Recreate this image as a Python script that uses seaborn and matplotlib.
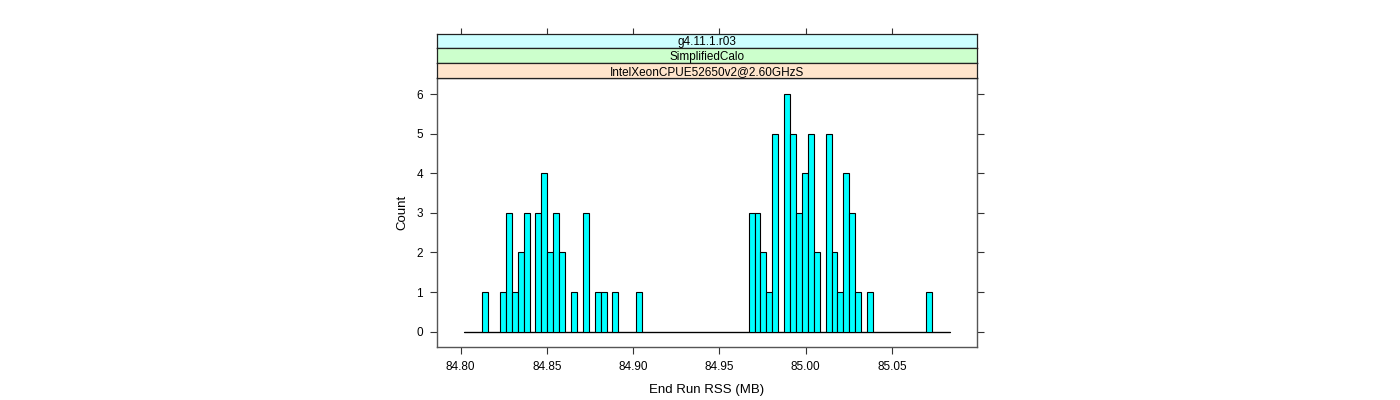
import numpy as np
import pandas as pd
import matplotlib
matplotlib.use("Agg")
import matplotlib.pyplot as plt
import seaborn as sns

# ---- data ----
rss_mb = [84.8142, 84.8245, 84.8279, 84.8314, 84.8348, 84.8382, 84.8451, 84.8485,
          84.8520, 84.8554, 84.8588, 84.8657, 84.8726, 84.8794, 84.8829, 84.8897,
          84.9034,
          84.9687, 84.9721, 84.9755, 84.9789, 84.9824, 84.9892, 84.9927, 84.9961,
          84.9995, 85.0030, 85.0064, 85.0133, 85.0167, 85.0201, 85.0236, 85.0270,
          85.0304, 85.0373, 85.0716]
counts = [1, 1, 3, 1, 2, 3, 3, 4, 2, 3, 2, 1, 3, 1, 1, 1, 1,
          3, 3, 2, 1, 5, 6, 5, 3, 4, 5, 2, 5, 2, 1, 4, 3, 1, 1, 1]
bin_start = 84.8022
bin_end = 85.0836
n_bins = 82
x_ticks = [84.80, 84.85, 84.90, 84.95, 85.00, 85.05]
y_ticks = [0, 1, 2, 3, 4, 5, 6]
strip_labels = ["g4.11.1.r03", "SimplifiedCalo", "IntelXeonCPUE52650v2@2.60GHzS"]
strip_colors = ["#ccffff", "#ccffcc", "#ffe5cc"]

df = pd.DataFrame({"rss": rss_mb, "n": counts})

sns.set_style("white")
plt.rcParams['font.family'] = ['Liberation Sans', 'DejaVu Sans']
plt.rcParams['text.color'] = 'black'
plt.rcParams['axes.labelcolor'] = 'black'

W, H = 1400, 400
fig = plt.figure(figsize=(14, 4), dpi=100)

px_l, px_r, px_b, px_t = 437, 977, 347, 78.3
ax = fig.add_axes([px_l / W, (H - px_b) / H, (px_r - px_l) / W, (px_b - px_t) / H])

sns.histplot(data=df, x="rss", weights="n", bins=n_bins, binrange=(bin_start, bin_end),
             color="#00ffff", edgecolor="black", linewidth=0.8, alpha=1, ax=ax)
# solid zero line under the bars, as the empty bins draw it
ax.plot([bin_start, bin_end], [0, 0], color="black", linewidth=0.9, zorder=0.5)

ax.set_xlim(84.7863, 85.0993)
ax.set_ylim(-0.39, 6.404)
ax.set_xticks(x_ticks)
ax.set_xticklabels([f"{v:.2f}" for v in x_ticks])
ax.set_yticks(y_ticks)
ax.set_yticklabels([str(v) for v in y_ticks])
ax.tick_params(axis="both", direction="out", length=5, width=0.8, color="#333333",
               labelsize=8.5, pad=5, labelcolor="black")
ax.tick_params(axis="y", right=True, left=True, labelright=False)
ax.tick_params(axis="x", bottom=True, top=False)
for s in ax.spines.values():
    s.set_color("#555555")
    s.set_linewidth(1.0)
ax.set_xlabel("End Run RSS (MB)", fontsize=9.5, labelpad=8, color="black")
ax.set_ylabel("Count", fontsize=9.5, labelpad=6, color="black")
ax.grid(False)

# strips
strip_top = 33.5
strip_h = (px_t - strip_top) / 3
for i, (lab, col) in enumerate(zip(strip_labels, strip_colors)):
    top = strip_top + i * strip_h
    sax = fig.add_axes([px_l / W, (H - top - strip_h) / H, (px_r - px_l) / W, strip_h / H])
    sax.set_facecolor(col)
    sax.set_xlim(ax.get_xlim())
    sax.set_ylim(0, 1)
    sax.set_yticks([])
    if i == 0:
        sax.set_xticks(x_ticks)
        sax.tick_params(axis="x", top=True, bottom=False, labeltop=False, labelbottom=False,
                        direction="out", length=4, width=0.8, color="#333333")
    else:
        sax.set_xticks([])
    for s in sax.spines.values():
        s.set_color("#222222")
        s.set_linewidth(0.9)
    sax.text(0.5, 0.42, lab, ha="center", va="center", fontsize=8.5,
             color="black", transform=sax.transAxes)

fig.savefig("out.png", dpi=100)
